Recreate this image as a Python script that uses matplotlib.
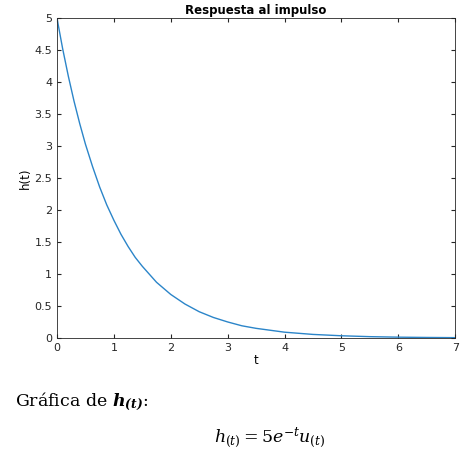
import matplotlib
matplotlib.use("Agg")
import matplotlib.pyplot as plt

t_vals = [0, 0.1, 0.2, 0.3, 0.4, 0.5, 0.625, 0.75, 0.875, 1, 1.125, 1.25, 1.375, 1.5, 1.75, 2, 2.25, 2.5, 2.75, 3, 3.25, 3.5, 3.75, 4, 4.5, 5, 5.5, 6, 6.5, 7]
h_vals = [5, 4.52, 4.09, 3.70, 3.35, 3.03, 2.68, 2.36, 2.08, 1.84, 1.62, 1.43, 1.26, 1.12, 0.87, 0.68, 0.53, 0.41, 0.32, 0.25, 0.19, 0.15, 0.12, 0.09, 0.055, 0.034, 0.02, 0.012, 0.0075, 0.0045]
x_ticks = [0, 1, 2, 3, 4, 5, 6, 7]
y_ticks = [0, 0.5, 1, 1.5, 2, 2.5, 3, 3.5, 4, 4.5, 5]

plt.rcParams["mathtext.fontset"] = "dejavuserif"
fig = plt.figure(figsize=(4.69, 4.53), dpi=100)
ax = fig.add_axes([0.1215, 0.254, 0.849, 0.706])
ax.plot(t_vals, h_vals, color="#2b85c9", lw=1.0)
ax.set_xlim(0, 7); ax.set_ylim(0, 5)
ax.set_xticks(x_ticks); ax.set_yticks(y_ticks)
ax.set_yticklabels([f"{v:g}" for v in y_ticks])
ax.tick_params(labelsize=8, direction="in", length=3, colors="#262626")
for s in ax.spines.values():
    s.set_color("#262626"); s.set_linewidth(0.6)
ax.tick_params(top=True, right=True)
ax.set_xlabel("t", fontsize=8.5, labelpad=1)
ax.set_ylabel("h(t)", fontsize=8.5, labelpad=2)
ax.set_title("Respuesta al impulso", fontsize=8.5, fontweight="bold", pad=3)

fig.text(15/469, 1-402/453, r"Gráfica de $\mathbfit{h}_{\mathbfit{(t)}}$:", fontsize=12.5,
         family="DejaVu Serif", va="center")
fig.text(270/469, 1-438/453, r"$h_{(t)}=5e^{-t}u_{(t)}$", fontsize=12.5, ha="center", va="center")
fig.savefig("out.png", dpi=100)
